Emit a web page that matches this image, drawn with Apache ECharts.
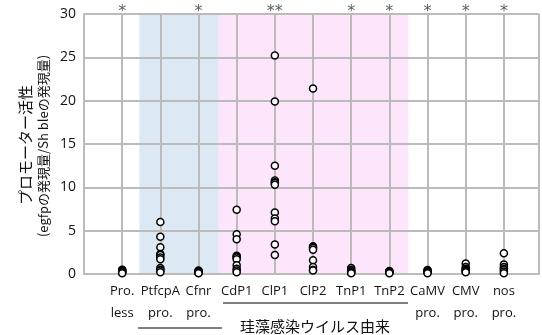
<!DOCTYPE html>
<html><head><meta charset="utf-8">
<script src="https://cdn.jsdelivr.net/npm/echarts@6/dist/echarts.min.js"></script>
<style>html,body{margin:0;padding:0;background:#fff}#c{width:542px;height:335px}</style>
</head><body><div id="c"></div>
<script>
var categories = ['Pro.\nless','PtfcpA\npro.','Cfnr\npro.','CdP1','ClP1','ClP2','TnP1','TnP2','CaMV\npro.','CMV\npro.','nos\npro.'];
var significance = ['*','','*','','**','','*','*','*','*','*'];
var vProless = [0.5,0.45,0.4,0.35,0.3,0.25,0.2,0.15,0.1];
var vPtfcpA = [6.0,4.3,3.1,2.3,2.2,1.9,1.7,0.7,0.5,0.4,0.2];
var vCfnr = [0.4,0.35,0.3,0.25,0.2,0.15,0.1];
var vCdP1 = [7.4,4.6,4.0,2.1,2.0,1.9,1.7,1.0,0.6,0.4,0.2];
var vClP1 = [25.2,19.9,12.5,10.8,10.6,10.5,10.3,7.1,6.4,6.1,3.4,2.2];
var vClP2 = [21.4,3.2,3.1,3.0,2.8,1.6,0.8,0.5,0.4];
var vTnP1 = [0.7,0.5,0.4,0.3,0.2,0.15,0.1];
var vTnP2 = [0.35,0.3,0.25,0.2,0.15,0.1];
var vCaMV = [0.45,0.4,0.3,0.25,0.2,0.1];
var vCMV = [1.2,0.8,0.6,0.5,0.4,0.3,0.2];
var vNos = [2.4,1.1,0.8,0.6,0.5,0.3,0.1];
var yTicks = [0,5,10,15,20,25,30];
var allValues = [vProless,vPtfcpA,vCfnr,vCdP1,vClP1,vClP2,vTnP1,vTnP2,vCaMV,vCMV,vNos];

var pts = [];
allValues.forEach(function(arr,i){ arr.forEach(function(v){ pts.push([i+1, v]); }); });
var sigPts = significance.map(function(s,i){ return {value:[i+1, 30], label:{formatter:s}}; });

var chart = echarts.init(document.getElementById('c'));
chart.setOption({
  animation:false,
  grid:{left:84,right:-2,top:14,bottom:61},
  xAxis:{type:'value',min:0,max:11.92,interval:1,
    axisLine:{show:true,lineStyle:{color:'#bbbbbb',width:2}},
    axisTick:{show:false},
    splitLine:{show:true,lineStyle:{color:'#bbbbbb',width:2}},
    axisLabel:{color:'#111',fontSize:13,lineHeight:22,fontFamily:'Open Sans',margin:6,
      formatter:function(v){ var k=Math.round(v); return (Math.abs(v-k)<1e-6 && k>=1 && k<=11)? categories[k-1] : ''; }}
  },
  yAxis:{type:'value',min:0,max:30,interval:5,
    axisLine:{show:true,lineStyle:{color:'#bbbbbb',width:2}},
    axisTick:{show:false},
    splitLine:{show:true,lineStyle:{color:'#bbbbbb',width:2}},
    axisLabel:{color:'#111',fontSize:14,fontFamily:'Open Sans',margin:8,
      formatter:function(v){ return yTicks.indexOf(v)>=0 ? String(v) : ''; }}
  },
  series:[
    {type:'scatter',data:[],z:-5,
      markArea:{silent:true,z:-5,data:[
        [{xAxis:1.45,itemStyle:{color:'#dce8f4'}},{xAxis:3.53}],
        [{xAxis:3.53,itemStyle:{color:'#fde5fc'}},{xAxis:8.5}]
      ]}},
    {type:'scatter',data:pts,symbol:'circle',symbolSize:7,z:3,
      itemStyle:{color:'#fff',borderColor:'#000',borderWidth:1.5,opacity:1}},
    {type:'scatter',data:sigPts,symbol:'circle',symbolSize:1,clip:false,z:4,
      itemStyle:{color:'rgba(0,0,0,0)'},
      label:{show:true,position:'top',distance:-6,color:'#333',fontSize:16,fontFamily:'DejaVu Sans'}}
  ],
  graphic:[
    {type:'text',x:25,y:145,rotation:Math.PI/2,style:{text:'プロモーター活性',font:'15px "Noto Sans CJK JP"',fill:'#111',align:'center',verticalAlign:'middle'}},
    {type:'text',x:43,y:146,rotation:Math.PI/2,style:{text:'(egfpの発現量/Sh bleの発現量)',font:'13px "Noto Sans CJK JP"',fill:'#111',align:'center',verticalAlign:'middle'}},
    {type:'line',shape:{x1:223,y1:303,x2:408,y2:303},style:{stroke:'#000',lineWidth:1.2}},
    {type:'line',shape:{x1:138,y1:328,x2:222,y2:328},style:{stroke:'#000',lineWidth:1.2}},
    {type:'text',x:315,y:326,style:{text:'珪藻感染ウイルス由来',font:'15px "Noto Sans CJK JP"',fill:'#111',align:'center',verticalAlign:'middle'}},
    {type:'text',x:180,y:344,style:{text:'内在性',font:'15px "Noto Sans CJK JP"',fill:'#111',align:'center',verticalAlign:'middle'}}
  ]
});
</script></body></html>
